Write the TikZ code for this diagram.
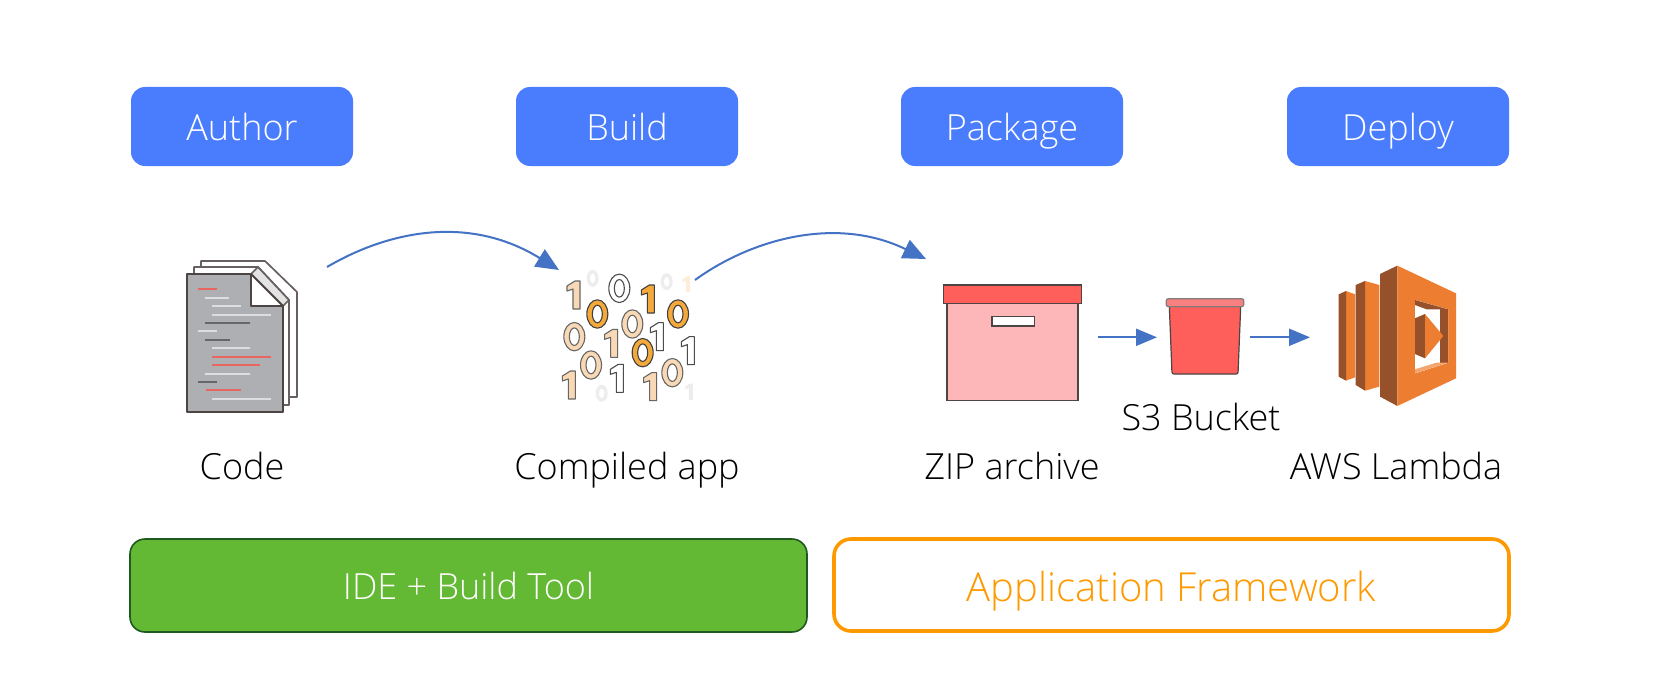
\documentclass[tikz,border=0pt]{standalone}
\usepackage{fontspec}
\setmainfont{Open Sans Light}
\usetikzlibrary{arrows.meta}
\definecolor{stepblue}{HTML}{4A7CFE}
\definecolor{arrowblue}{HTML}{4472C4}
\definecolor{toolgreen}{HTML}{63B834}
\definecolor{tooldark}{HTML}{1E5A1E}
\definecolor{awsorange}{HTML}{FF9900}
\definecolor{lamO}{HTML}{ED7D31}
\definecolor{lamD}{HTML}{96502A}
\definecolor{boxlid}{HTML}{FF5F5A}
\definecolor{boxbody}{HTML}{FDB7B9}
\definecolor{rim}{HTML}{F98080}
\definecolor{edge}{HTML}{4D4444}
\definecolor{dO}{HTML}{F5A93A}
\definecolor{dL}{HTML}{F9D9B5}
\definecolor{docgray}{HTML}{AEAFB2}
\definecolor{docred}{HTML}{E8665F}
\definecolor{doclight}{HTML}{DCDDDE}
\definecolor{docdark}{HTML}{66676A}
\tikzset{
  x=1pt,y=-1pt,
  labelfont/.style={font=\fontsize{36}{40}\selectfont,text height=27pt,text depth=0pt,inner sep=0pt},
  stepbox/.style={labelfont,fill=stepblue,rounded corners=14pt,minimum width=222pt,minimum height=79pt,text=white},
  captext/.style={labelfont,text=black},
  flow/.style={draw=arrowblue,line width=2pt,-{Triangle[length=21pt,width=17pt]},shorten >=0pt},
  bigflow/.style={draw=arrowblue,line width=2pt,-{Triangle[length=23pt,width=20pt]},shorten >=0pt},
  page/.style={draw=edge!85,line width=1.7pt,fill=white,line join=round},
  digitedge/.style={draw=#1,line width=1.1pt,even odd rule,line join=round},
  txtline/.style={line width=1.8pt}
}
\newcommand{\zzdigit}[4]{\path[digitedge=#4,fill=#3] ({540+#1/3},{250+#2/3}) ellipse [x radius=10.5,y radius=14.2] ({540+#1/3},{250+#2/3}) ellipse [x radius=5,y radius=8.8];}
\newcommand{\oodigit}[4]{\begin{scope}[shift={({540+#1/3},{250+#2/3})}]\path[digitedge=#4,fill=#3] (1,-14)--(6,-14)--(6,14)--(-1,14)--(-1,-6)--(-7,-4)--(-7,-9)--cycle;\end{scope}}
\newcommand{\zzfaint}[2]{\fill[gray!14,even odd rule] ({540+#1/3},{250+#2/3}) ellipse [x radius=6,y radius=8.5] ({540+#1/3},{250+#2/3}) ellipse [x radius=2.8,y radius=5];}
\newcommand{\oofaint}[3]{\begin{scope}[shift={({540+#1/3},{250+#2/3})},scale=0.58]\fill[#3] (1,-14)--(6,-14)--(6,14)--(-1,14)--(-1,-6)--(-7,-4)--(-7,-9)--cycle;\end{scope}}
\newcommand{\txtl}[4]{\draw[txtline,draw=#4] ({160+#1/3},{240+#3/3}) -- ({160+#2/3},{240+#3/3});}
\begin{document}
\begin{tikzpicture}
\useasboundingbox (0,0) rectangle (1680,690);
\fill[white] (0,0) rectangle (1680,690);
% step boxes
\node[stepbox] (author) at (242,126.5) {Author};
\node[stepbox] (build) at (627,126.5) {Build};
\node[stepbox] (package) at (1012,126.5) {Package};
\node[stepbox] (deploy) at (1398,126.5) {Deploy};
% captions
\node[captext] (code) at (242,466) {Code};
\node[captext] (compiled) at (627,466) {Compiled app};
\node[captext] (zip) at (1012,466) {ZIP archive};
\node[captext] (lambda) at (1396,466) {AWS Lambda};
\node[captext] (bucket) at (1201,417) {S3 Bucket};
% bottom bars
\node[labelfont,draw=tooldark,line width=1.6pt,fill=toolgreen,rounded corners=15pt,minimum width=677pt,minimum height=93pt,text=white] (ide) at (468.5,585.5) {IDE + Build Tool};
\path[draw=awsorange,line width=3.6pt,fill=white,rounded corners=17pt] (834,539) rectangle (1509,631);
\node[labelfont,text=awsorange,font=\fontsize{40}{44}\selectfont] (framework) at (1171.5,587.5) {Application Framework};
% document icon
\path[page] (201,261)--(265,261)--(297,292)--(297,397)--(280,397)--(201,397)--cycle;
\path[page] (194,267)--(258,267)--(289,300)--(289,405)--(194,405)--cycle;
\path[page,fill=gray!22] (258,267)--(289,300)--(283,306)--(251,274)--cycle;
\path[draw=edge,line width=1.9pt,fill=white,line join=round] (251,274)--(283,306)--(251,306)--cycle;
\path[draw=edge,line width=1.9pt,fill=docgray,line join=round] (187,274)--(251,274)--(251,306)--(283,306)--(283,412)--(187,412)--cycle;
\txtl{114}{172}{148}{docred}
\txtl{136}{206}{173}{doclight}
\txtl{156}{244}{198}{doclight}
\txtl{156}{332}{224}{doclight}
\txtl{136}{270}{249}{docdark}
\txtl{114}{172}{274}{doclight}
\txtl{136}{210}{299}{docdark}
\txtl{156}{270}{325}{doclight}
\txtl{156}{332}{350}{docred}
\txtl{156}{300}{375}{docred}
\txtl{136}{270}{401}{doclight}
\txtl{114}{172}{426}{docdark}
\txtl{138}{242}{451}{docred}
\txtl{156}{332}{476}{doclight}
% binary digits
\zzfaint{158}{85}
\zzfaint{380}{95}
\zzfaint{185}{430}
\oofaint{440}{103}{orange!14}
\oofaint{448}{425}{gray!14}
\zzdigit{238}{115}{white}{black!70}
\zzdigit{172}{192}{dO}{black!75}
\zzdigit{277}{222}{dL}{black!60}
\zzdigit{414}{192}{dO}{black!75}
\zzdigit{103}{260}{dL}{black!60}
\zzdigit{308}{308}{dO}{black!75}
\zzdigit{153}{345}{dL}{black!60}
\zzdigit{397}{368}{dL}{black!60}
\oodigit{102}{135}{dL}{black!60}
\oodigit{325}{147}{dO}{black!75}
\oodigit{215}{280}{dL}{black!60}
\oodigit{352}{260}{white}{black!70}
\oodigit{445}{302}{white}{black!70}
\oodigit{88}{405}{dL}{black!60}
\oodigit{232}{385}{white}{black!70}
\oodigit{332}{410}{dL}{black!60}
% ZIP box
\path[draw=edge,line width=1.5pt,fill=boxbody] (947,303)rectangle(1078,400.7);
\path[draw=edge,line width=1.5pt,fill=boxlid] (943.3,285)rectangle(1081.7,303.3);
\path[draw=edge,line width=1.5pt,fill=white] (992,316.7)rectangle(1034.7,326);
% bucket
\path[draw=edge,line width=1.2pt,fill=boxlid,rounded corners=2pt] (1169.3,306)--(1240.7,306)--(1238,374)--(1172,374)--cycle;
\path[draw=edge!70,line width=1.2pt,fill=rim,rounded corners=2pt] (1166.3,298.7)rectangle(1243.7,306.7);
% lambda icon
\begin{scope}[shift={(1300,250)},x=0.3333pt,y=-0.3333pt]
\fill[lamO] (138,123)--(165,133)--(165,382)--(138,392)--cycle;
\fill[lamD] (116,133)--(138,123)--(138,392)--(116,380)--cycle;
\fill[lamO] (195,93)--(238,105)--(238,410)--(195,422)--cycle;
\fill[lamD] (167,105)--(195,93)--(195,422)--(167,405)--cycle;
\fill[lamD] (240,72)--(292,47)--(292,468)--(240,440)--cycle;
\fill[lamO,even odd rule] (292,47)--(468,130)--(468,385)--(292,468)--cycle (345,150)--(444,178)--(444,338)--(345,370)--cycle;
\fill[white] (345,150)--(444,178)--(444,338)--(345,370)--cycle;
\fill[lamD] (345,150)--(444,178)--(380,178)--(345,165)--cycle;
\fill[lamD] (420,178)--(444,178)--(444,338)--(420,338)--cycle;
\fill[lamO!70!white] (345,370)--(444,338)--(410,338)--(345,358)--cycle;
\fill[lamD] (345,205)--(375,192)--(375,325)--(345,312)--cycle;
\fill[lamO] (375,192)--(430,258)--(375,325)--cycle;
\end{scope}
% connectors
\coordinate (a1s) at (327,267);
\coordinate (a1e) at (559,270);
\coordinate (a2s) at (695,280);
\coordinate (a2e) at (926,259);
\coordinate (a3s) at (1097.7,337.3);
\coordinate (a3e) at (1157,337.3);
\coordinate (a4s) at (1250,337.3);
\coordinate (a4e) at (1310,337.3);
\draw[bigflow] (a1s) .. controls (390,230) and (470,215) .. (a1e);
\draw[bigflow] (a2s) .. controls (750,240) and (835,215) .. (a2e);
\draw[flow] (a3s) -- (a3e);
\draw[flow] (a4s) -- (a4e);
\end{tikzpicture}
\end{document}
